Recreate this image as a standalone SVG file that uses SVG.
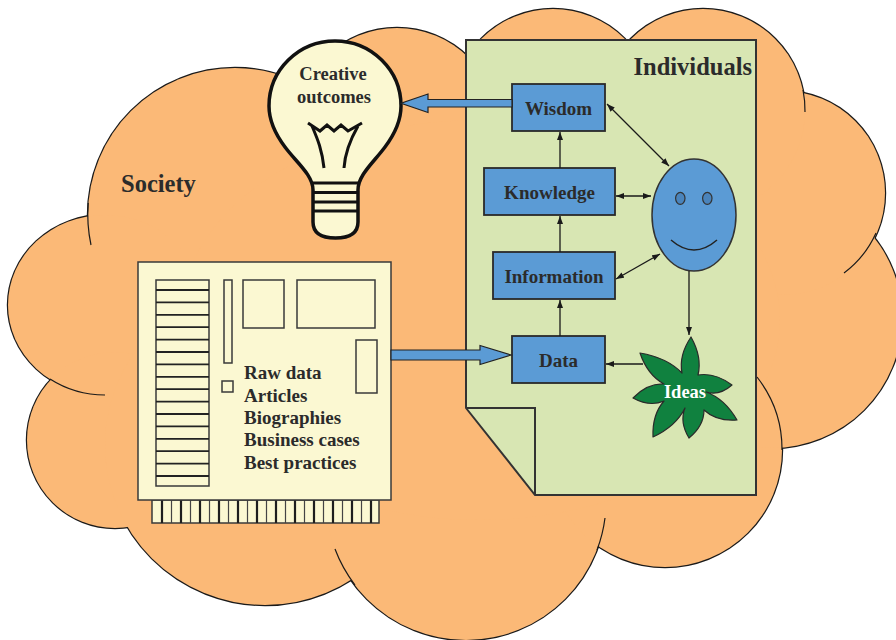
<svg xmlns="http://www.w3.org/2000/svg" width="896" height="640" viewBox="0 0 896 640">
  <defs>
    <style>
      .lobe-line { fill: none; stroke: #1a1a1a; stroke-width: 2.4; }
      .lobe-fill { fill: #FBB977; stroke: none; }
      .tail { fill: none; stroke: #1a1a1a; stroke-width: 1.2; }
      .lbl { font-family: "Liberation Serif", "Times New Roman", serif; font-weight: bold; fill: #2b2b2b; }
      .box { fill: #5B9BD5; stroke: #2a2a2a; stroke-width: 1.8; }
      .cream { fill: #FBF8D2; stroke: #3a3a3a; stroke-width: 1.5; }
      .wire { fill: none; stroke: #1a1a1a; stroke-width: 1.3; }
      .fat { fill: #5B9BD5; stroke: #222; stroke-width: 1.2; }
    </style>
    <marker id="tip" viewBox="0 0 8 6" refX="8" refY="3" markerWidth="8" markerHeight="6" markerUnits="userSpaceOnUse" orient="auto-start-reverse">
      <path d="M0,0 L8,3 L0,6 z" fill="#1a1a1a"/>
    </marker>
  </defs>

  <!-- Society cloud: outlined lobes, then fills over the inner outlines -->
  <g id="society">
    <g>
      <circle class="lobe-line" cx="235" cy="215" r="147"/>
      <ellipse class="lobe-line" cx="105" cy="305" rx="97" ry="90"/>
      <circle class="lobe-line" cx="115" cy="440" r="88"/>
      <circle class="lobe-line" cx="265" cy="445" r="160"/>
      <circle class="lobe-line" cx="466" cy="500" r="140"/>
      <circle class="lobe-line" cx="665" cy="450" r="117"/>
      <circle class="lobe-line" cx="772" cy="318" r="130"/>
      <circle class="lobe-line" cx="783" cy="193" r="102"/>
      <circle class="lobe-line" cx="703" cy="111" r="102"/>
      <circle class="lobe-line" cx="553" cy="110" r="101"/>
      <circle class="lobe-line" cx="397" cy="130" r="102"/>
    </g>
    <g>
      <circle class="lobe-fill" cx="235" cy="215" r="147"/>
      <ellipse class="lobe-fill" cx="105" cy="305" rx="97" ry="90"/>
      <circle class="lobe-fill" cx="115" cy="440" r="88"/>
      <circle class="lobe-fill" cx="265" cy="445" r="160"/>
      <circle class="lobe-fill" cx="466" cy="500" r="140"/>
      <circle class="lobe-fill" cx="665" cy="450" r="117"/>
      <circle class="lobe-fill" cx="772" cy="318" r="130"/>
      <circle class="lobe-fill" cx="783" cy="193" r="102"/>
      <circle class="lobe-fill" cx="703" cy="111" r="102"/>
      <circle class="lobe-fill" cx="553" cy="110" r="101"/>
      <circle class="lobe-fill" cx="397" cy="130" r="102"/>
      <ellipse class="lobe-fill" cx="480" cy="320" rx="300" ry="200"/>
    </g>
    <!-- short inner arcs where lobes meet -->
    <path class="tail" d="M88.2,203 A147,147 0 0 0 91,245"/>
    <path class="tail" d="M50,379 A97,90 0 0 0 105,395"/>
    <path class="tail" d="M355,585 A140,140 0 0 1 335,549"/>
    <path class="tail" d="M597,550 A140,140 0 0 0 605,518"/>
    <path class="tail" d="M782,450 A117,117 0 0 0 757,377"/>
    <path class="tail" d="M876,233 A102,102 0 0 1 844,273"/>
    <path class="tail" d="M803,90 A102,102 0 0 1 805,112"/>
    <text class="lbl" x="121" y="192" font-size="24.5">Society</text>
  </g>

  <!-- Individuals: page with folded corner -->
  <g id="individuals">
    <path d="M466,40 H756 V495 H535 L466,408 Z" fill="#D8E6B3" stroke="#333" stroke-width="2"/>
    <path d="M466,408 H535 V495" fill="none" stroke="#333" stroke-width="2"/>
    <text class="lbl" x="752" y="75" font-size="24.5" text-anchor="end">Individuals</text>
  </g>

  <!-- Light bulb -->
  <g id="bulb">
    <path d="M313,222 V190 C313,175 296,162 285,147 C276,135 269,121 269,106 A66,65 0 0 1 401,106 C401,121 394,135 385,147 C374,162 358,175 358,190 V222 C358,234 348,238 335.5,238 C323,238 313,234 313,222 Z" fill="#FBF8D2" stroke="#111" stroke-width="3.5"/>
    <path d="M313,183 H358 M313,192.5 H358 M313,202 H358 M313,211 H358" stroke="#111" stroke-width="3" fill="none"/>
    <path d="M308,123 L320,131 L327,125 L334,131 L341,125 L348,131 L362,123" fill="none" stroke="#111" stroke-width="3" stroke-linejoin="miter"/>
    <path d="M312,126 C318,140 322,150 324,168 M358,126 C350,140 345,152 344,168" fill="none" stroke="#111" stroke-width="3"/>
    <text class="lbl" x="333" y="80" font-size="18.5" text-anchor="middle">Creative</text>
    <text class="lbl" x="334" y="103" font-size="18.5" text-anchor="middle">outcomes</text>
  </g>

  <!-- Circuit board with sources -->
  <g id="board">
    <rect class="cream" x="152" y="500" width="227" height="23"/>
    <path d="M162,500 V523 M181,500 V523 M200,500 V523 M219,500 V523 M238,500 V523 M257,500 V523 M276,500 V523 M295,500 V523 M314,500 V523 M333,500 V523 M352,500 V523 M371,500 V523" stroke="#1e1e1e" stroke-width="2.2"/>
    <path d="M171.5,500 V523 M190.5,500 V523 M209.5,500 V523 M228.5,500 V523 M247.5,500 V523 M266.5,500 V523 M285.5,500 V523 M304.5,500 V523 M323.5,500 V523 M342.5,500 V523 M361.5,500 V523" stroke="#444" stroke-width="1.2"/>
    <rect class="cream" x="138" y="262" width="253" height="238"/>
    <rect class="cream" x="156" y="280" width="53" height="206"/>
    <path d="M156,290 H209 M156,302.4 H209 M156,314.8 H209 M156,327.2 H209 M156,339.6 H209 M156,352 H209 M156,364.4 H209 M156,376.8 H209 M156,389.2 H209 M156,401.6 H209 M156,414 H209 M156,426.4 H209 M156,438.8 H209 M156,451.2 H209 M156,463.6 H209 M156,476 H209" stroke="#222" stroke-width="1.8"/>
    <rect class="cream" x="224" y="280" width="8" height="83"/>
    <rect class="cream" x="243" y="280" width="41" height="48"/>
    <rect class="cream" x="297" y="280" width="78" height="48"/>
    <rect class="cream" x="356" y="340" width="21" height="53"/>
    <rect class="cream" x="222" y="381" width="11" height="11"/>
    <text class="lbl" x="244" y="379" font-size="19">Raw data</text>
    <text class="lbl" x="244" y="401.5" font-size="19">Articles</text>
    <text class="lbl" x="244" y="424" font-size="19">Biographies</text>
    <text class="lbl" x="244" y="446" font-size="19">Business cases</text>
    <text class="lbl" x="244" y="468.5" font-size="19">Best practices</text>
  </g>

  <!-- Hierarchy boxes -->
  <g id="wisdom">
    <rect class="box" x="512" y="84" width="93" height="47"/>
    <text class="lbl" x="558.5" y="115" font-size="19" text-anchor="middle">Wisdom</text>
  </g>
  <g id="knowledge">
    <rect class="box" x="484" y="168" width="131" height="47"/>
    <text class="lbl" x="549.5" y="199" font-size="19" text-anchor="middle">Knowledge</text>
  </g>
  <g id="information">
    <rect class="box" x="493" y="252" width="122" height="47"/>
    <text class="lbl" x="554" y="283" font-size="19" text-anchor="middle">Information</text>
  </g>
  <g id="data">
    <rect class="box" x="512" y="336" width="93" height="47"/>
    <text class="lbl" x="558.5" y="367" font-size="19" text-anchor="middle">Data</text>
  </g>

  <!-- Person -->
  <g id="person">
    <ellipse cx="694" cy="215" rx="42" ry="56" fill="#5B9BD5" stroke="#333" stroke-width="1.5"/>
    <ellipse cx="680.3" cy="198.3" rx="4.7" ry="6" fill="#4A84BC" stroke="#333" stroke-width="1.2"/>
    <ellipse cx="707.3" cy="198.3" rx="4.7" ry="6" fill="#4A84BC" stroke="#333" stroke-width="1.2"/>
    <path d="M671,240 Q694,260 717,240" fill="none" stroke="#222" stroke-width="1.5"/>
  </g>

  <!-- Ideas: seven-armed leaf -->
  <g id="ideas">
    <path d="M698,375 C711.6,372.8 722.9,378.2 732,385 C725.2,391 716.6,395.3 706,392 C720.9,397.3 730.4,408.6 737,420 C725.9,420.8 713.8,419.2 704,410 C704,422.7 697,431.5 689,438 C683.8,429.5 680.5,419.3 685,408 C677.8,422.6 665.3,431.3 653,437 C652.5,425 654.4,411.9 664,401 C652.6,405.9 641.9,402.9 633,398 C640.6,390.2 650.6,383.4 664,384 C650.9,376.9 644,364.8 640,353 C654.3,355.4 669.9,360.6 682,373 C679.3,358.9 684.4,346.8 691,337 C697,347.7 701.5,360.6 698,375 Z" fill="#10813F" stroke="#2a2a2a" stroke-width="1.2" stroke-linejoin="round"/>
    <text x="685" y="398" font-family="Liberation Serif, Times New Roman, serif" font-weight="bold" font-size="18.5" fill="#ffffff" text-anchor="middle">Ideas</text>
  </g>

  <!-- Connectors -->
  <g id="connectors">
    <polygon class="fat" points="512,99.5 428,99.5 428,94 401,103.3 428,112.5 428,107 512,107"/>
    <polygon class="fat" points="391,350 480,350 480,345.5 511,355 480,364.5 480,360 391,360"/>
    <path class="wire" d="M560,336 V300" marker-end="url(#tip)"/>
    <path class="wire" d="M560,252 V216" marker-end="url(#tip)"/>
    <path class="wire" d="M560,168 V132" marker-end="url(#tip)"/>
    <path class="wire" d="M607,104 L669,166" marker-start="url(#tip)" marker-end="url(#tip)"/>
    <path class="wire" d="M616,196 H651" marker-start="url(#tip)" marker-end="url(#tip)"/>
    <path class="wire" d="M616,279 L660,254" marker-start="url(#tip)" marker-end="url(#tip)"/>
    <path class="wire" d="M689,271 V335" marker-end="url(#tip)"/>
    <path class="wire" d="M643,364 H606" marker-end="url(#tip)"/>
  </g>
</svg>
